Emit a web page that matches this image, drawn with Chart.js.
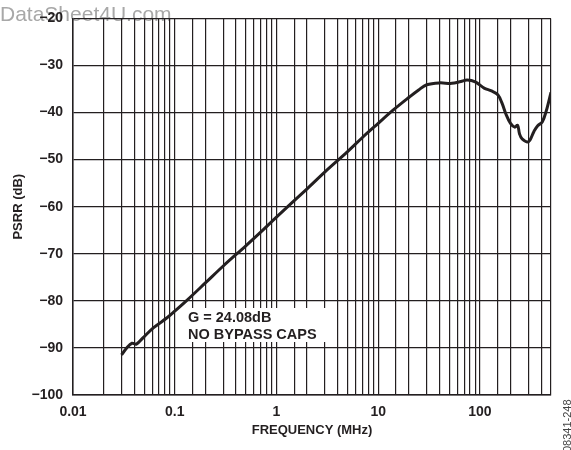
<!DOCTYPE html>
<html>
<head>
<meta charset="utf-8">
<script src="https://cdn.jsdelivr.net/npm/chart.js@4/dist/chart.umd.min.js"></script>
<style>
  html, body { margin: 0; padding: 0; background: #fff; }
  #wrap { width: 571px; height: 450px; position: relative; }
</style>
</head>
<body>
<div id="wrap"><canvas id="grafico"></canvas></div>
<script>
// frequência (MHz) e PSRR (dB)
const frequencias = [0.030, 0.034, 0.038, 0.042, 0.049, 0.062, 0.084, 0.1, 0.13, 0.2, 0.3, 0.5, 0.7, 1,
  2, 3, 5, 7, 10, 14, 20, 25, 30, 40, 53, 65, 75, 90, 110, 130, 150, 165, 180, 200, 220, 235, 245,
  260, 300, 340, 370, 410, 450, 500];
const psrr = [-91.5, -89.9, -89.0, -89.2, -87.8, -85.7, -83.6, -82.2, -80.0, -76.2, -72.6, -68.3, -65.4, -62.2,
  -56.2, -52.6, -48.3, -45.3, -42.3, -39.5, -36.8, -35.2, -34.1, -33.7, -33.8, -33.4, -33.1, -33.5, -34.8, -35.4, -36.2, -38.0, -40.3, -42.3, -43.1, -42.7, -44.5,
  -45.6, -46.2, -44.0, -42.8, -42.0, -39.6, -35.7];

const yTicks = [-100, -90, -80, -70, -60, -50, -40, -30, -20];
const xLabels = [0.01, 0.1, 1, 10, 100];
const anotacao = ["G = 24.08dB", "NO BYPASS CAPS"];

const corLinha = "#231f20";
const fonte = "'Liberation Sans', Arial, sans-serif";

const pontos = frequencias.map((f, i) => ({ x: f, y: psrr[i] }));

const extras = {
  id: "extras",
  beforeDraw(chart) {
    const c = chart.ctx;
    c.save();
    c.fillStyle = "#a8a8a8";
    c.font = "21px " + fonte;
    c.textBaseline = "alphabetic";
    c.fillText("DataSheet4U.com", 0, 21);
    c.restore();
  },
  beforeDatasetsDraw(chart) {
    const c = chart.ctx;
    c.save();
    c.fillStyle = "#fff";
    c.fillRect(183, 308, 149, 34);
    c.fillStyle = corLinha;
    c.font = "bold 14.5px " + fonte;
    c.textBaseline = "alphabetic";
    c.fillText(anotacao[0], 188, 322);
    c.fillText(anotacao[1], 188, 339);
    c.restore();
  },
  afterDraw(chart) {
    const c = chart.ctx;
    c.save();
    c.translate(571, 452);
    c.rotate(-Math.PI / 2);
    c.fillStyle = "#444";
    c.font = "11px " + fonte;
    c.textBaseline = "alphabetic";
    c.fillText("08341-248", 0, 0);
    c.restore();
  }
};

new Chart(document.getElementById("grafico"), {
  type: "line",
  data: {
    datasets: [{
      data: pontos,
      borderColor: corLinha,
      borderWidth: 3,
      pointRadius: 0,
      tension: 0.35,
      fill: false
    }]
  },
  options: {
    responsive: true,
    maintainAspectRatio: false,
    animation: false,
    layout: { padding: { top: 13, right: 20, left: 0, bottom: 0 } },
    plugins: { legend: { display: false }, tooltip: { enabled: false } },
    scales: {
      x: {
        type: "logarithmic",
        min: 0.01,
        max: 500,
        afterFit(s) { s.height = 55; },
        grid: { color: corLinha, lineWidth: 1.2, drawTicks: false },
        border: { color: corLinha, width: 1.5 },
        ticks: {
          autoSkip: false,
          maxRotation: 0,
          padding: 9,
          color: corLinha,
          font: { family: fonte, size: 14, weight: "bold" },
          callback: (v) => {
            const hit = xLabels.find((l) => Math.abs(Math.log10(v) - Math.log10(l)) < 1e-6);
            return hit !== undefined ? String(hit) : "";
          }
        },
        title: {
          display: true,
          text: "FREQUENCY (MHz)",
          color: corLinha,
          font: { family: fonte, size: 13, weight: "bold" },
          padding: { top: 0, bottom: 12 }
        }
      },
      y: {
        min: -100,
        max: -20,
        afterFit(s) { s.width = 73; },
        afterBuildTicks(s) { s.ticks = yTicks.map((v) => ({ value: v })); },
        grid: { color: corLinha, lineWidth: 1.2, drawTicks: false },
        border: { color: corLinha, width: 1.5 },
        ticks: {
          padding: 10,
          color: corLinha,
          font: { family: fonte, size: 14, weight: "bold" },
          callback: (v) => (v < 0 ? "\u2212" + Math.abs(v) : String(v))
        },
        title: {
          display: true,
          text: "PSRR (dB)",
          color: corLinha,
          font: { family: fonte, size: 13, weight: "bold" },
          padding: { top: 11, bottom: 0 }
        }
      }
    }
  },
  plugins: [extras]
});
</script>
</body>
</html>
